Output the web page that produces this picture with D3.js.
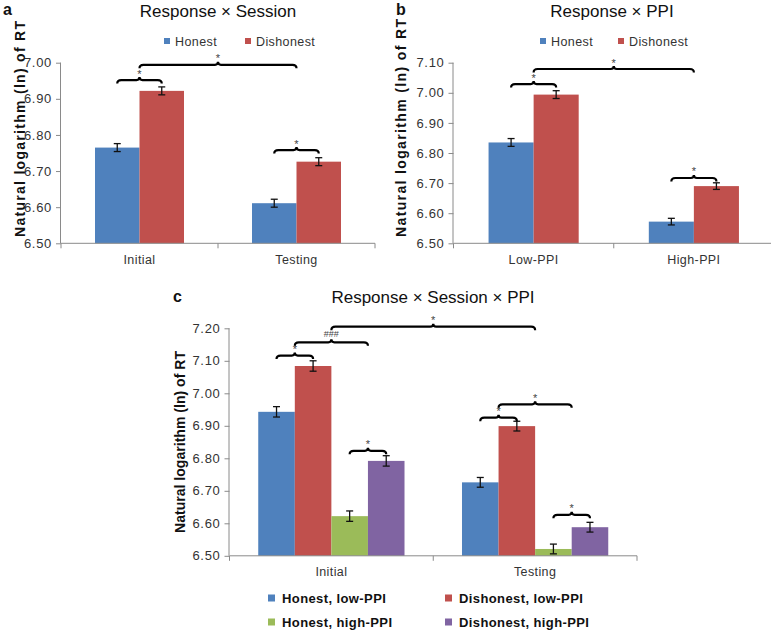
<!DOCTYPE html>
<html><head><meta charset="utf-8">
<script src="https://cdn.jsdelivr.net/npm/d3@7"></script>
<style>body{margin:0;background:#fff}svg{display:block;font-family:"Liberation Sans",Arial,sans-serif}</style>
</head><body><svg id="c" width="771" height="631"></svg>
<script>
// ---- data ----
const sessions = ["Initial", "Testing"];
const ppiLevels = ["Low-PPI", "High-PPI"];
const responses = ["Honest", "Dishonest"];
const seriesC = ["Honest, low-PPI", "Dishonest, low-PPI", "Honest, high-PPI", "Dishonest, high-PPI"];

const aHonest = [6.765, 6.611];
const aDishonest = [6.922, 6.726];
const aErr = [0.011, 0.011];

const bHonest = [6.835, 6.572];
const bDishonest = [6.994, 6.690];
const bErr = [0.013, 0.011];

const cHonestLow = [6.943, 6.726];
const cDishonestLow = [7.084, 6.899];
const cHonestHigh = [6.622, 6.521];
const cDishonestHigh = [6.792, 6.588];
const cErr = [0.016, 0.015];

const ticksA = [6.50, 6.60, 6.70, 6.80, 6.90, 7.00];
const ticksB = [6.50, 6.60, 6.70, 6.80, 6.90, 7.00, 7.10];
const ticksC = [6.50, 6.60, 6.70, 6.80, 6.90, 7.00, 7.10, 7.20];

// significance brackets: [category, seriesFrom, category2, seriesTo, yValue, label]; series -1 = category centre, 0.5/2.5 = pair centre
const bracketsA = [[0, 0, 0, 1, 6.952, "*"], [0, -1, 1, -1, 6.994, "*"], [1, 0, 1, 1, 6.758, "*"]];
const bracketsB = [[0, 0, 0, 1, 7.029, "*"], [0, -1, 1, -1, 7.079, "*"], [1, 0, 1, 1, 6.717, "*"]];
const bracketsC = [
  [0, 0, 0, 1, 7.116, "*"], [0, 0.5, 0, 2.5, 7.157, "###"], [0, -1, 1, -1, 7.205, "*"],
  [0, 2, 0, 3, 6.823, "*"], [1, 0, 1, 1, 6.925, "*"], [1, 0.5, 1, 2.5, 6.966, "*"], [1, 2, 1, 3, 6.626, "*"]
];

const colors = ["#4F81BD", "#C0504D", "#9BBB59", "#8064A2"];

const svg = d3.select("#c");

function panel(o) {
  const g = svg.append("g");
  const y = d3.scaleLinear().domain(o.domain).range([o.yBottom, o.yTop]);
  const x0 = d3.scaleBand().domain(o.cats).range([o.xLeft, o.xRight]).padding(0);
  const x1 = d3.scaleBand().domain(d3.range(o.series.length)).range([0, x0.bandwidth()])
    .paddingInner(0).paddingOuter(o.pad);

  // bars
  o.series.forEach((vals, s) => {
    g.selectAll(null).data(vals).join("rect")
      .attr("x", (d, i) => x0(o.cats[i]) + x1(s))
      .attr("width", x1.bandwidth())
      .attr("y", d => y(d))
      .attr("height", d => y(o.domain[0]) - y(d))
      .attr("fill", colors[s]);
  });
  // error bars
  o.series.forEach((vals, s) => {
    vals.forEach((v, i) => {
      const cx = x0(o.cats[i]) + x1(s) + x1.bandwidth() / 2;
      const e = o.err[i];
      const eg = g.append("g").attr("stroke", "#111").attr("stroke-width", 1.3);
      eg.append("line").attr("x1", cx).attr("x2", cx).attr("y1", y(v - e)).attr("y2", y(v + e));
      eg.append("line").attr("x1", cx - 3.5).attr("x2", cx + 3.5).attr("y1", y(v - e)).attr("y2", y(v - e));
      eg.append("line").attr("x1", cx - 3.5).attr("x2", cx + 3.5).attr("y1", y(v + e)).attr("y2", y(v + e));
    });
  });

  // y axis
  const ya = g.append("g").attr("transform", `translate(${o.xLeft},0)`)
    .call(d3.axisLeft(y).tickValues(o.ticks).tickFormat(d3.format(".2f")).tickSize(5).tickPadding(4));
  ya.select(".domain").attr("stroke", "#8a8a8a").attr("d", `M-0.5,${o.yBottom}V${o.yTop}`);
  ya.selectAll(".tick line").attr("stroke", "#8a8a8a");
  ya.selectAll(".tick text").attr("font-size", 13).attr("fill", "#333").style("letter-spacing", "0.7px")
    .attr("font-family", "Liberation Sans, Arial, sans-serif");

  // x axis
  const xa = g.append("g").attr("transform", `translate(0,${o.yBottom})`);
  xa.append("line").attr("x1", o.xLeft).attr("x2", o.xRight).attr("stroke", "#8a8a8a");
  const bounds = [o.xLeft].concat(o.cats.map(c => x0(c) + x0.bandwidth()));
  xa.selectAll(null).data(bounds).join("line")
    .attr("x1", d => d).attr("x2", d => d).attr("y1", 0).attr("y2", 5).attr("stroke", "#8a8a8a");
  xa.selectAll(null).data(o.cats).join("text")
    .attr("x", d => x0(d) + x0.bandwidth() / 2).attr("y", o.xLabelDy)
    .attr("text-anchor", "middle").attr("font-size", 12.5).attr("fill", "#333")
    .style("letter-spacing", "0.4px").text(d => d);

  // brackets
  function sx(cat, s) {
    if (s < 0) return x0(o.cats[cat]) + x0.bandwidth() / 2;
    return x0(o.cats[cat]) + x1(0) + x1.bandwidth() * (s + 0.5);
  }
  o.brackets.forEach(b => {
    const xa1 = sx(b[0], b[1]), xa2 = sx(b[2], b[3]), yy = y(b[4]);
    const m = (xa1 + xa2) / 2;
    const p = `M${xa1},${yy + 3.5} Q${xa1},${yy} ${xa1 + 4},${yy} L${m - 3},${yy} Q${m},${yy} ${m},${yy - 3} Q${m},${yy} ${m + 3},${yy} L${xa2 - 4},${yy} Q${xa2},${yy} ${xa2},${yy + 3.5}`;
    g.append("path").attr("d", p).attr("fill", "none").attr("stroke", "#000").attr("stroke-width", 2.2);
    g.append("text").attr("x", m).attr("y", b[5] === "*" ? yy - 2.5 : yy - 5).attr("text-anchor", "middle")
      .attr("font-size", b[5] === "*" ? 11 : 9).attr("fill", "#444").text(b[5]);
  });

  // y label
  g.append("text").attr("transform", `translate(${o.yLabelX},${o.yLabelY}) rotate(-90)`)
    .attr("text-anchor", "middle").attr("font-size", 14).attr("font-weight", "bold")
    .attr("textLength", o.yLabelLen).attr("lengthAdjust", "spacing")
    .attr("fill", "#111").text("Natural logarithm (ln) of RT");

  // title + letter
  g.append("text").attr("x", o.titleX).attr("y", o.titleY).attr("text-anchor", "middle")
    .attr("font-size", 17).attr("fill", "#111").text(o.title);
  g.append("text").attr("x", o.letterX).attr("y", o.letterY).attr("font-size", 16)
    .attr("font-weight", "bold").attr("fill", "#111").text(o.letter);
  return g;
}

// panel a
panel({
  cats: sessions, series: [aHonest, aDishonest], err: aErr, domain: [6.5, 7.0], ticks: ticksA,
  xLeft: 61, xRight: 375, yBottom: 243.3, yTop: 62.7, pad: 0.764, xLabelDy: 21,
  brackets: bracketsA, yLabelX: 25, yLabelY: 129, yLabelLen: 216, title: "Response × Session", titleX: 218, titleY: 17,
  letter: "a", letterX: 3, letterY: 15
});
// panel b
panel({
  cats: ppiLevels, series: [bHonest, bDishonest], err: bErr, domain: [6.5, 7.1], ticks: ticksB,
  xLeft: 453.5, xRight: 774, yBottom: 243.3, yTop: 62.7, pad: 0.778, xLabelDy: 21,
  brackets: bracketsB, yLabelX: 405.5, yLabelY: 128, yLabelLen: 218, title: "Response × PPI", titleX: 612, titleY: 17,
  letter: "b", letterX: 396, letterY: 15
});
// panel c
panel({
  cats: sessions, series: [cHonestLow, cDishonestLow, cHonestHigh, cDishonestHigh], err: cErr,
  domain: [6.5, 7.2], ticks: ticksC,
  xLeft: 229.5, xRight: 637, yBottom: 555.8, yTop: 328.3, pad: 0.786, xLabelDy: 20,
  brackets: bracketsC, yLabelX: 185, yLabelY: 442, yLabelLen: 182, title: "Response × Session × PPI", titleX: 433, titleY: 303,
  letter: "c", letterX: 173, letterY: 302
});

// legends a/b
function smallLegend(items) {
  items.forEach(it => {
    svg.append("rect").attr("x", it.x).attr("y", 38).attr("width", 6).attr("height", 6).attr("fill", it.c);
    svg.append("text").attr("x", it.x + 11).attr("y", 45.5).attr("font-size", 12.5).attr("fill", "#333")
      .style("letter-spacing", "0.4px").text(it.t);
  });
}
smallLegend([{ x: 164, c: colors[0], t: responses[0] }, { x: 245, c: colors[1], t: responses[1] }]);
smallLegend([{ x: 540, c: colors[0], t: responses[0] }, { x: 618, c: colors[1], t: responses[1] }]);

// legend c
const legPos = [[268, 598], [445, 598], [268, 622], [445, 622]];
seriesC.forEach((s, i) => {
  const [lx, ly] = legPos[i];
  svg.append("rect").attr("x", lx).attr("y", ly - 3.5).attr("width", 7).attr("height", 7).attr("fill", colors[i]);
  svg.append("text").attr("x", lx + 14).attr("y", ly + 4.5).attr("font-size", 13).attr("font-weight", "bold")
    .style("letter-spacing", "0.4px").attr("fill", "#111").text(s);
});
</script></body></html>
